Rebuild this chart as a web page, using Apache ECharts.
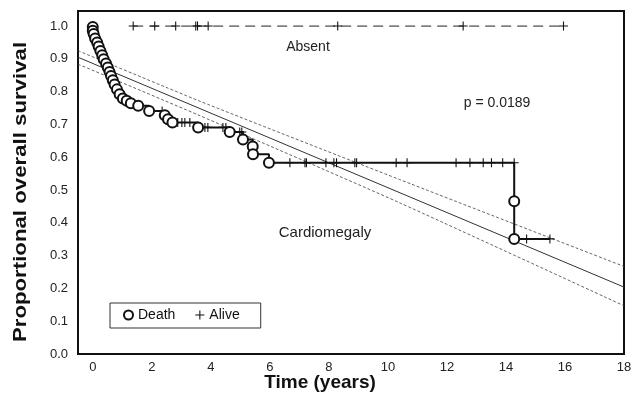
<!DOCTYPE html>
<html>
<head>
<meta charset="utf-8">
<script src="https://cdn.jsdelivr.net/npm/echarts@6/dist/echarts.min.js"></script>
<style>
html,body{margin:0;padding:0;background:#fff;}
#c{width:640px;height:401px;}
</style>
</head>
<body>
<div id="c"></div>
<script>
// ---- data ----
const xTicks = [0, 2, 4, 6, 8, 10, 12, 14, 16, 18];
const yTicks = [0, 0.1, 0.2, 0.3, 0.4, 0.5, 0.6, 0.7, 0.8, 0.9, 1.0];

// Cardiomegaly: deaths (time, survival after the event)
const cardDeathT = [0.00, 0.00, 0.03, 0.08, 0.15, 0.20, 0.26, 0.32, 0.37, 0.45, 0.51, 0.57, 0.62, 0.68, 0.74, 0.82, 0.91, 1.02, 1.15, 1.29, 1.54, 1.91, 2.44, 2.55, 2.70, 3.57, 4.64, 5.09, 5.42, 5.43, 5.97, 14.28, 14.28];
const cardDeathS = [0.997, 0.986, 0.976, 0.962, 0.950, 0.938, 0.924, 0.911, 0.899, 0.886, 0.874, 0.860, 0.848, 0.835, 0.822, 0.807, 0.792, 0.779, 0.772, 0.765, 0.757, 0.741, 0.728, 0.716, 0.706, 0.691, 0.677, 0.654, 0.633, 0.609, 0.583, 0.466, 0.351];
// Cardiomegaly: censored (alive)
const cardCensT = [2.35, 2.88, 3.02, 3.12, 3.29, 3.80, 3.90, 4.41, 4.51, 4.98, 5.05, 6.07, 6.68, 7.19, 7.24, 7.90, 8.17, 8.26, 8.88, 8.94, 10.28, 10.65, 12.31, 12.78, 13.23, 13.51, 13.89, 14.28, 14.70, 15.49];
const cardCensS = [0.741, 0.706, 0.706, 0.706, 0.706, 0.691, 0.691, 0.691, 0.691, 0.677, 0.677, 0.583, 0.583, 0.583, 0.583, 0.583, 0.583, 0.583, 0.583, 0.583, 0.583, 0.583, 0.583, 0.583, 0.583, 0.583, 0.583, 0.583, 0.351, 0.351];

// Absent: censored (alive), survival 1.0
const absentCensT = [1.37, 2.10, 2.81, 3.49, 3.55, 3.91, 8.30, 12.55, 15.95];
const absentCensS = [1, 1, 1, 1, 1, 1, 1, 1, 1];

// Regression fit with confidence band
const regT = [-0.5, 18];
const regFit = [0.905, 0.204];
const bandT = [-0.5, 3.6, 10.4, 18];
const bandUpper = [0.925, 0.772, 0.532, 0.267];
const bandLower = [0.884, 0.728, 0.461, 0.147];

// ---- build ----
const zip = (a, b) => a.map((v, i) => [v, b[i]]);
const deaths = zip(cardDeathT, cardDeathS);
const cens = zip(cardCensT, cardCensS);
const kmLine = deaths.slice();
kmLine.push([cardCensT[cardCensT.length - 1], cardCensS[cardCensS.length - 1]]);
const absentLine = [[absentCensT[0], absentCensS[0]], [absentCensT[absentCensT.length - 1], absentCensS[absentCensS.length - 1]]];

const plusPath = 'path://M4.4,0h1.2v4.4h4.4v1.2h-4.4v4.4h-1.2v-4.4h-4.4v-1.2h4.4z';
const FONT = '"Liberation Sans", Arial, sans-serif';

const chart = echarts.init(document.getElementById('c'), null, {renderer: 'canvas'});
chart.setOption({
  animation: false,
  backgroundColor: '#fff',
  grid: {left: 78, right: 16, top: 11, bottom: 47, show: true, borderColor: '#111', borderWidth: 2, backgroundColor: 'transparent'},
  xAxis: {
    type: 'value', min: -0.5, max: 18,
    axisLine: {show: true, onZero: false, lineStyle: {color: '#111', width: 2}},
    axisTick: {show: false},
    splitLine: {show: false},
    axisLabel: {customValues: xTicks, color: '#222', fontSize: 13, fontFamily: FONT, margin: 7}
  },
  yAxis: {
    type: 'value', min: 0, max: 1.046,
    axisLine: {show: true, onZero: false, lineStyle: {color: '#111', width: 2}},
    axisTick: {show: false},
    splitLine: {show: false},
    axisLabel: {customValues: yTicks, color: '#222', fontSize: 13, fontFamily: FONT, margin: 10,
      formatter: v => v.toFixed(1)}
  },
  legend: {
    left: 110, top: 303,
    orient: 'horizontal',
    borderColor: '#333', borderWidth: 1, padding: [5, 21, 6, 13],
    itemGap: 20, itemWidth: 9, itemHeight: 9,
    textStyle: {fontSize: 14, color: '#111', fontFamily: FONT},
    data: [
      {name: 'Death', icon: 'circle', itemStyle: {color: '#fff', borderColor: '#111', borderWidth: 2, opacity: 1}},
      {name: 'Alive', icon: plusPath, itemStyle: {color: '#111', borderWidth: 0, opacity: 1}}
    ]
  },
  graphic: [
    {type: 'text', x: 308, y: 47, style: {text: 'Absent', fontSize: 14, fill: '#222', fontFamily: FONT, align: 'center', verticalAlign: 'middle'}},
    {type: 'text', x: 497, y: 103, style: {text: 'p = 0.0189', fontSize: 14, fill: '#222', fontFamily: FONT, align: 'center', verticalAlign: 'middle'}},
    {type: 'text', x: 325, y: 233, style: {text: 'Cardiomegaly', fontSize: 15, fill: '#222', fontFamily: FONT, align: 'center', verticalAlign: 'middle'}},
    {type: 'text', x: 320, y: 383, style: {text: 'Time (years)', fontSize: 19, fontWeight: 'bold', fill: '#111', fontFamily: FONT, align: 'center', verticalAlign: 'middle'}},
    {type: 'text', x: 21, y: 192, rotation: Math.PI / 2, scaleX: 1.17,
      style: {text: 'Proportional overall survival', fontSize: 19, fontWeight: 'bold', fill: '#111', fontFamily: FONT, align: 'center', verticalAlign: 'middle'}}
  ],
  series: [
    {name: 'upper', type: 'line', data: zip(bandT, bandUpper), symbol: 'none', smooth: 0.2,
      lineStyle: {color: '#555', width: 0.9, type: [3, 2]}, silent: true, z: 1},
    {name: 'lower', type: 'line', data: zip(bandT, bandLower), symbol: 'none', smooth: 0.2,
      lineStyle: {color: '#555', width: 0.9, type: [3, 2]}, silent: true, z: 1},
    {name: 'fit', type: 'line', data: zip(regT, regFit), symbol: 'none',
      lineStyle: {color: '#333', width: 1}, silent: true, z: 1},
    {name: 'km', type: 'line', step: 'end', data: kmLine, symbol: 'none',
      lineStyle: {color: '#111', width: 2}, z: 3},
    {name: 'absent', type: 'line', data: absentLine, symbol: 'none',
      lineStyle: {color: '#222', width: 1, type: [10, 6]}, z: 3},
    {name: 'Alive', type: 'scatter', data: cens, symbol: plusPath, symbolSize: [9, 9],
      itemStyle: {color: '#111', opacity: 1}, z: 4},
    {name: 'Alive', type: 'scatter', data: zip(absentCensT, absentCensS), symbol: plusPath, symbolSize: [9, 9],
      itemStyle: {color: '#111', opacity: 1}, z: 4},
    {name: 'Death', type: 'scatter', data: deaths, symbol: 'circle', symbolSize: 10,
      itemStyle: {color: '#fff', borderColor: '#111', borderWidth: 2, opacity: 1}, z: 5}
  ]
});
</script>
</body>
</html>
